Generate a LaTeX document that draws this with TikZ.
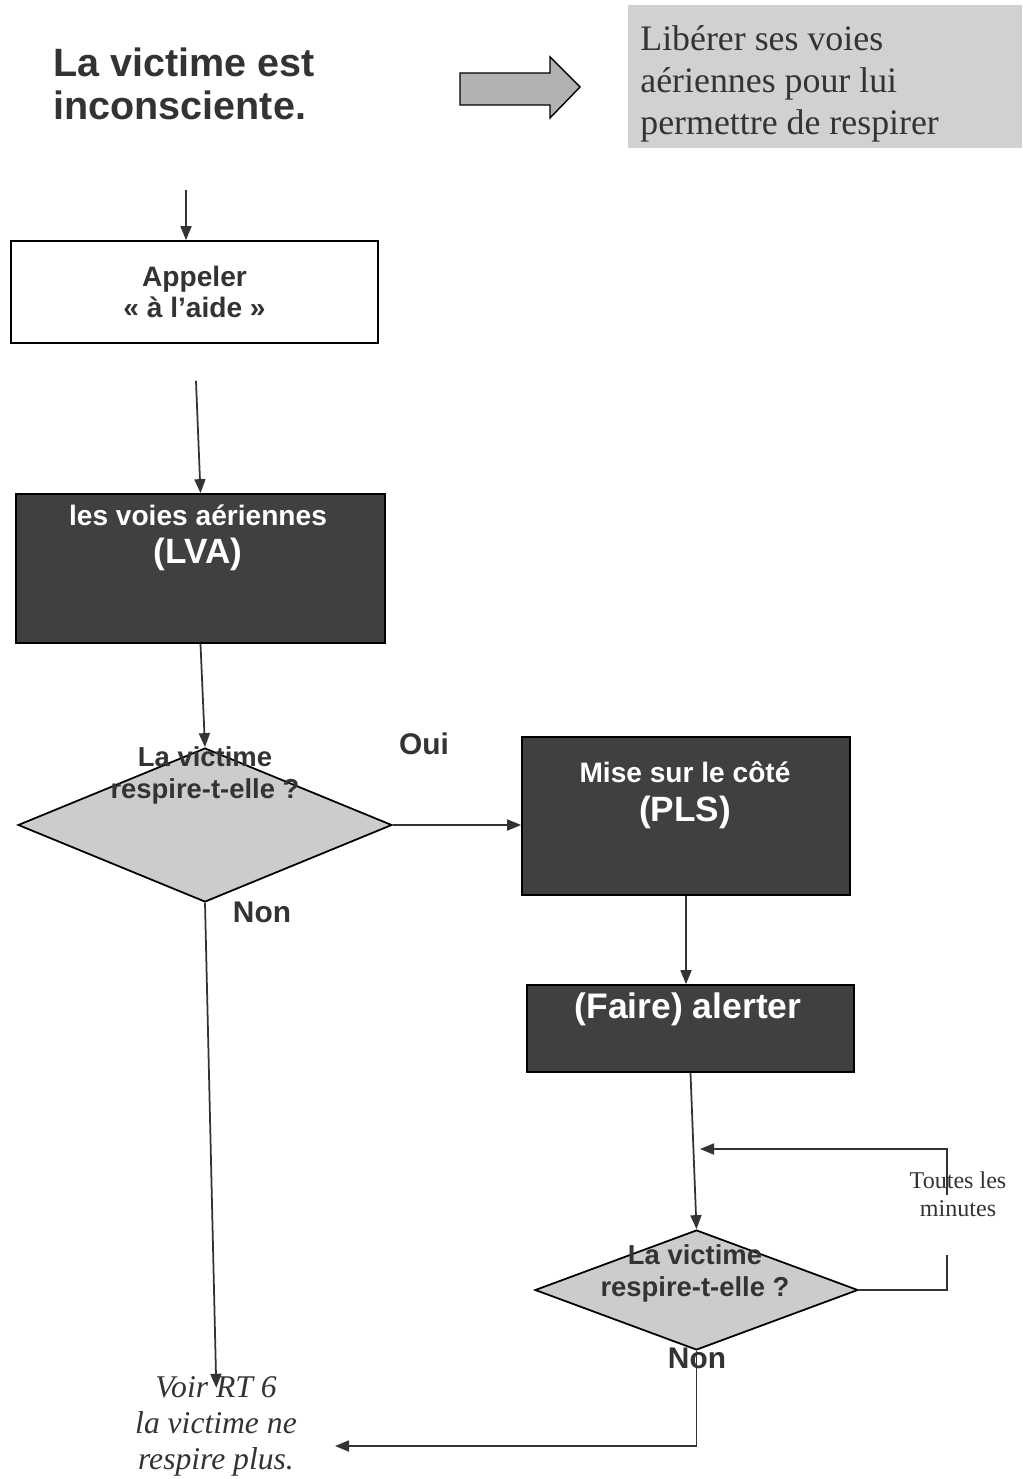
\documentclass[tikz,border=0pt]{standalone}
\usepackage{fontspec}
\setmainfont{Liberation Serif}
\setsansfont{Liberation Sans}
\usepackage{tikz}
\usetikzlibrary{positioning,arrows.meta,shapes.geometric,calc}

\definecolor{darkfill}{gray}{0.25}
\definecolor{lightfill}{gray}{0.80}
\definecolor{notefill}{gray}{0.82}
\definecolor{inkgray}{gray}{0.20}

\tikzset{
	whitebox/.style={draw=black,fill=white,line width=1pt,inner sep=0pt,text=inkgray,
		font=\sffamily\bfseries\fontsize{16}{18}\selectfont,align=center},
	darkbox/.style={draw=black,fill=darkfill,line width=1pt,inner sep=0pt},
	darktext/.style={text=white,font=\sffamily\bfseries\fontsize{16}{22}\selectfont,align=center,inner sep=0pt},
	decision/.style={diamond,draw=black,fill=lightfill,line width=1pt,inner sep=0pt},
	asktext/.style={text=inkgray,font=\sffamily\bfseries\fontsize{15.6}{18.2}\selectfont,align=center,inner sep=0pt},
	answer/.style={text=inkgray,font=\sffamily\bfseries\fontsize{17}{20}\selectfont,inner sep=0pt},
	link/.style={->,line width=1pt,draw=inkgray}
}

\begin{document}
\begin{tikzpicture}[x=0.02cm,y=-0.02cm,>={Triangle[length=0.28cm,width=0.22cm]}]
		
		\useasboundingbox (0,0) rectangle (1022,1479);
		
		% Title and hint
		\node[anchor=west,align=left,inner sep=0pt,text=inkgray,
			font=\sffamily\bfseries\fontsize{22.5}{24.5}\selectfont] (title) at (53,84)
			{La victime est\\inconsciente.};
		
		\filldraw[fill=gray!60,draw=black,line width=0.8pt]
		(460,73)--(550,73)--(550,57)--(580,87)--(550,118)--(550,105)--(460,105)--cycle;
		
		\node[fill=notefill,minimum width=7.88cm,minimum height=2.86cm] (hint) at (825,76.5){};
		\node[anchor=west,align=left,inner sep=0pt,text=inkgray,
			font=\fontsize{20.4}{24}\selectfont] (hinttxt) at (640,84)
			{Libérer ses voies\\aériennes pour lui\\permettre de respirer};
		
		% Boxes
		\node[whitebox,minimum width=7.34cm,minimum height=2.04cm] (appel) at (194.5,292)
			{Appeler\\« à l’aide »};
		
		\node[darkbox,minimum width=7.38cm,minimum height=2.98cm] (lva) at (200.5,568.5){};
		\node[darktext] (lvatxt) at (198,538)
			{les voies aériennes\\{\fontsize{20}{22}\selectfont (LVA)}};
		
		\node[darkbox,minimum width=6.56cm,minimum height=3.16cm] (pls) at (686,816){};
		\node[darktext] (plstxt) at (685,795)
			{Mise sur le côté\\{\fontsize{20}{22}\selectfont (PLS)}};
		
		\node[darkbox,minimum width=6.54cm,minimum height=1.74cm] (alert) at (690.5,1028.5){};
		\node[darktext,font=\sffamily\bfseries\fontsize{20.2}{24}\selectfont] (alerttxt) at (688,1009)
			{(Faire) alerter};
		
		% Decisions
		\node[decision,minimum width=7.48cm,minimum height=3.08cm] (ask) at (205,825){};
		\node[asktext] (asktxt) at (205,775) {La victime\\respire-t-elle ?};
		
		\node[decision,minimum width=6.46cm,minimum height=2.40cm] (recheck) at (696.5,1290){};
		\node[asktext] (rechecktxt) at (695,1273) {La victime\\respire-t-elle ?};
		
		\node[answer] (oui) at (424,744) {Oui};
		\node[answer] (non) at (262,912) {Non};
		\node[answer] (nonbis) at (697,1358) {Non};
		
		\node[align=center,inner sep=0pt,text=inkgray,font=\fontsize{13.7}{16}\selectfont]
			(minutes) at (958,1194) {Toutes les\\minutes};
		
		\node[align=center,inner sep=0pt,text=inkgray,font=\itshape\fontsize{18}{20.5}\selectfont]
			(voir) at (216,1426) {Voir RT 6\\la victime ne\\respire plus.};
		
		% Connectors
		\coordinate (start) at (186,190);
		\coordinate (loopa) at (947,1255);
		\coordinate (loopb) at (947,1195);
		\coordinate (loopend) at (700,1149);
		\coordinate (voirin) at (335,1446);
		
		\draw[link] (start) -- (start |- appel.north);
		\draw[link,shorten <=0.74cm] (appel.south) -- (lva.north);
		\draw[link] (lva.south) -- (ask.north);
		\draw[link] (ask.east) -- (ask.east -| pls.west);
		\draw[link,shorten >=-0.24cm] (ask.south) -- (voir.north);
		\draw[link] (pls.south) -- (pls.south |- alert.north);
		\draw[link] (alert.south) -- (recheck.north);
		\draw[line width=1pt,draw=inkgray] (recheck.east) -| (loopa);
		\draw[link] (loopb) |- (loopend);
		\draw[link] (recheck.south) |- (voirin);
		
	\end{tikzpicture}
\end{document}
